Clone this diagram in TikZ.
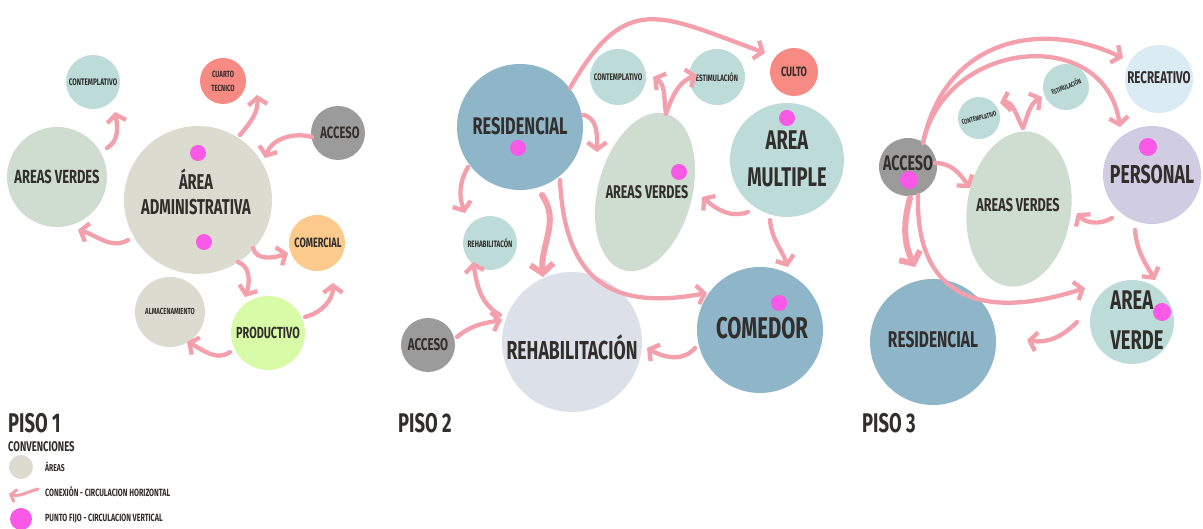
\documentclass[tikz,border=0pt]{standalone}
\usepackage{fontspec}
\setmainfont{Fira Sans}[FakeStretch=0.68]
\usetikzlibrary{shapes.geometric,arrows.meta,calc}
\definecolor{pk}{RGB}{244,160,172}
\definecolor{dotc}{RGB}{250,88,230}
\definecolor{tealc}{RGB}{189,220,217}
\definecolor{sage}{RGB}{207,221,208}
\definecolor{beige}{RGB}{220,219,208}
\definecolor{steel}{RGB}{143,181,201}
\definecolor{grey1}{RGB}{155,155,155}
\definecolor{salmon}{RGB}{248,138,132}
\definecolor{orng}{RGB}{253,202,141}
\definecolor{lime}{RGB}{216,251,167}
\definecolor{lav}{RGB}{208,205,226}
\definecolor{pale}{RGB}{220,225,233}
\definecolor{sky}{RGB}{219,235,243}
\definecolor{ink}{RGB}{50,46,44}
\newcommand\fz[2]{\fontsize{#1}{#2}\selectfont}
\begin{document}
\begin{tikzpicture}[x=1pt,y=1pt,
  area/.style={circle, inner sep=0pt},
  oval/.style={ellipse, inner sep=0pt, fill=sage},
  pt/.style={circle, fill=dotc, minimum size=16pt, inner sep=0pt},
  lbl/.style={text=ink, align=center, inner sep=0pt},
  conn/.style={draw=pk, line width=4.3pt, line cap=round, -{Straight Barb[length=7pt,width=19pt]}},
  big/.style={line width=6pt, -{Straight Barb[length=9pt,width=23pt]}}]
\useasboundingbox (0,0) rectangle (1203,529);
\fill[white] (0,0) rectangle (1203,529);

% ---------------- PISO 1
\node[area, fill=tealc, minimum size=54pt] (cont1) at (93,447) {};
\node[lbl, font=\bfseries\fz{9.5}{10}] (cont1t) at (93,447) {CONTEMPLATIVO};
\node[area, fill=salmon, minimum size=46pt] (ct1) at (223,448) {};
\node[lbl, font=\bfseries\fz{9}{14}] (ct1t) at (223,448) {CUARTO\\TECNICO};
\node[area, fill=grey1, minimum size=54pt] (acc1) at (338,396) {};
\node[lbl, font=\bfseries\fz{16.5}{17}] (acc1t) at (340,396) {ACCESO};
\node[area, fill=sage, minimum size=100pt] (av1) at (57,352) {};
\node[lbl, font=\bfseries\fz{19}{19}] (av1t) at (57,352) {AREAS VERDES};
\node[area, fill=beige, minimum size=148pt] (adm) at (198,329) {};
\node[lbl, font=\bfseries\fz{21.5}{25}] (admt) at (196,337) {ÁREA\\ADMINISTRATIVA};
\node[pt] (d1a) at (198,376) {};
\node[pt] (d1b) at (204,287) {};
\node[area, fill=orng, minimum size=56pt] (com1) at (317,286) {};
\node[lbl, font=\bfseries\fz{13.5}{14}] (com1t) at (318,286) {COMERCIAL};
\node[area, fill=beige, minimum size=70pt] (alm1) at (170,217) {};
\node[lbl, font=\bfseries\fz{8.8}{10}] (alm1t) at (170,218) {ALMACENAMIENTO};
\node[area, fill=lime, minimum size=74pt] (prod1) at (268,196) {};
\node[lbl, font=\bfseries\fz{16}{17}] (prod1t) at (268,196) {PRODUCTIVO};

\draw[conn] ($(av1)+(50,29)$) to[out=30,in=-80] ($(cont1)+(22,-30)$);
\draw[conn] ($(adm)+(42,65)$) to[out=50,in=-85] ($(ct1)+(34,-14)$);
\draw[conn] ($(acc1)+(-26,-4)$) to[out=165,in=70] ($(adm)+(67,42)$);
\draw[conn] ($(adm)+(-70,-40)$) to[out=210,in=-15] ($(av1)+(21,-53)$);
\draw[conn] ($(adm)+(55,-48)$) to[out=-75,in=200] ($(com1)+(-29,-10)$);
\draw[conn] ($(adm)+(40,-62)$) to[out=-20,in=70] ($(prod1)+(-23,36)$);
\draw[conn] ($(prod1)+(37,16)$) to[out=15,in=-90] ($(com1)+(16,-40)$);
\draw[conn] ($(prod1)+(-38,-19)$) to[out=215,in=-25] ($(alm1)+(17,-30)$);

% ---------------- PISO 2
\node[area, fill=steel, minimum size=126pt] (res2) at (520,402) {};
\node[lbl, font=\bfseries\fz{24}{24}] (res2t) at (520,403) {RESIDENCIAL};
\node[pt] (d2a) at (518,381) {};
\node[area, fill=tealc, minimum size=56pt] (cont2) at (618,452) {};
\node[lbl, font=\bfseries\fz{9.5}{10}] (cont2t) at (618,452) {CONTEMPLATIVO};
\node[area, fill=tealc, minimum size=56pt] (est2) at (717,452) {};
\node[lbl, font=\bfseries\fz{9.3}{10}] (est2t) at (717,452) {ESTIMULACIÓN};
\node[area, fill=salmon, minimum size=48pt] (culto) at (794,457) {};
\node[lbl, font=\bfseries\fz{13.5}{14}] (cultot) at (794,457) {CULTO};
\node[area, fill=tealc, minimum size=114pt] (am2) at (787,369) {};
\node[lbl, font=\bfseries\fz{27}{37}] (am2t) at (787,370) {AREA\\MULTIPLE};
\node[pt] (d2b) at (787,411) {};
\node[oval, minimum width=94pt, minimum height=162pt, rotate=-15] (av2) at (645,337) {};
\node[lbl, font=\bfseries\fz{18.4}{19}] (av2t) at (647,337) {AREAS VERDES};
\node[pt] (d2c) at (679,357) {};
\node[area, fill=tealc, minimum size=54pt] (rehs) at (490,286) {};
\node[lbl, font=\bfseries\fz{9.3}{10}] (rehst) at (490,286) {REHABILITACÓN};
\node[area, fill=pale, minimum size=140pt] (rehb) at (572,187) {};
\node[lbl, font=\bfseries\fz{26}{26}] (rehbt) at (572,182) {REHABILITACIÓN};
\node[area, fill=grey1, minimum size=54pt] (acc2) at (428,184) {};
\node[lbl, font=\bfseries\fz{17}{17}] (acc2t) at (428,184) {ACCESO};
\node[area, fill=steel, minimum size=126pt] (com2) at (760,199) {};
\node[lbl, font=\bfseries\fz{30}{30}] (com2t) at (762,201) {COMEDOR};
\node[pt] (d2d) at (779,226) {};

\draw[conn] ($(res2)+(50,39)$) to[out=60,in=160,looseness=1.45] ($(culto)+(-29,19)$);
\draw[conn] (av2.north) to[out=100,in=-30] ($(cont2)+(35,0)$);
\draw[conn] (av2.north) to[out=70,in=200] ($(est2)+(-20,2)$);
\draw[conn] ($(res2)+(63,12)$) to[out=-10,in=90] ($(av2)+(-48,40)$);
\draw[conn] ($(res2)+(-52,-40)$) to[out=240,in=110] ($(rehs)+(-25,30)$);
\draw[conn,big] ($(res2)+(22,-68)$) to[out=-55,in=95] ($(rehb)+(-29,65)$);
\draw[conn] ($(res2)+(40,-53)$) .. controls (565,240) and (620,220) .. ($(com2)+(-53,37)$);
\draw[conn] ($(am2)+(-39,-52)$) to[out=200,in=-40] ($(av2)+(57,-5)$);
\draw[conn] ($(am2)+(-17,-60)$) to[out=-85,in=110] ($(com2)+(28,63)$);
\draw[conn] ($(com2)+(-65,-18)$) to[out=230,in=-30] ($(rehb)+(75,-6)$);
\draw[conn] ($(rehb)+(-72,27)$) to[out=150,in=-80] ($(rehs)+(-17,-19)$);
\draw[conn] ($(acc2)+(29,8)$) to[out=40,in=190] ($(rehb)+(-70,22)$);

% ---------------- PISO 3
\node[area, fill=sky, minimum size=68pt] (rec3) at (1159,450) {};
\node[lbl, font=\bfseries\fz{17}{17}] (rec3t) at (1159,451) {RECREATIVO};
\node[area, fill=tealc, minimum size=46pt] (est3) at (1066,442) {};
\node[lbl, font=\bfseries\fz{7}{7}, rotate=22] (est3t) at (1066,443) {ESTIMULACIÓN};
\node[area, fill=tealc, minimum size=42pt] (cont3) at (979,411) {};
\node[lbl, font=\bfseries\fz{7}{7}, rotate=14] (cont3t) at (979,411) {CONTEMPLATIVO};
\node[area, fill=grey1, minimum size=58pt] (acc3) at (908,362) {};
\node[lbl, font=\bfseries\fz{21}{21}] (acc3t) at (908,366) {ACCESO};
\node[pt, minimum size=18pt] (d3a) at (909,349) {};
\node[area, fill=lav, minimum size=98pt] (pers3) at (1152,354) {};
\node[lbl, font=\bfseries\fz{26}{26}] (pers3t) at (1152,354) {PERSONAL};
\node[pt, minimum size=18pt] (d3b) at (1148,382) {};
\node[oval, minimum width=104pt, minimum height=156pt, rotate=-8] (av3) at (1019,320) {};
\node[lbl, font=\bfseries\fz{18.6}{19}] (av3t) at (1018,324) {AREAS VERDES};
\node[area, fill=tealc, minimum size=84pt] (av3b) at (1132,207) {};
\node[lbl, align=left, font=\bfseries\fz{27}{40}] (av3bt) at (1137,209) {AREA\\VERDE};
\node[pt, minimum size=18pt] (d3c) at (1162,217) {};
\node[area, fill=steel, minimum size=126pt] (res3) at (933,187) {};
\node[lbl, font=\bfseries\fz{22.8}{23}] (res3t) at (933,189) {RESIDENCIAL};

\draw[conn] ($(acc3)+(15,24)$) .. controls (945,490) and (1040,510) .. ($(rec3)+(-36,21)$);
\draw[conn] ($(acc3)+(15,24)$) .. controls (945,490) and (1105,505) .. ($(pers3)+(-32,48)$);
\draw[conn] ($(acc3)+(10,-28)$) .. controls (915,225) and (990,210) .. ($(av3b)+(-47,34)$);
\draw[conn] ($(acc3)+(27,4)$) to[out=0,in=125] ($(av3)+(-49,21)$);
\draw[conn,big] ($(acc3)+(2,-31)$) to[out=-105,in=115] ($(res3)+(-18,75)$);
\draw[conn] ($(av3)+(4,81)$) to[out=120,in=10] ($(cont3)+(21,15)$);
\draw[conn] ($(av3)+(4,81)$) to[out=70,in=210] ($(est3)+(-24,-10)$);
\draw[conn] ($(pers3)+(-40,-43)$) to[out=210,in=-50] ($(av3)+(58,-4)$);
\draw[conn] ($(pers3)+(-17,-55)$) to[out=-85,in=120] ($(av3b)+(23,42)$);
\draw[conn] ($(av3b)+(-55,0)$) to[out=225,in=-10] ($(res3)+(94,2)$);

% ---------------- titles and legend
\node[lbl, anchor=west, font=\bfseries\fz{27}{27}] (p1) at (8,106) {PISO 1};
\node[lbl, anchor=west, font=\bfseries\fz{27}{27}] (p2) at (398,106) {PISO 2};
\node[lbl, anchor=west, font=\bfseries\fz{27}{27}] (p3) at (862,106) {PISO 3};
\node[lbl, anchor=west, font=\bfseries\fz{14}{14}] (conv) at (8,82) {CONVENCIONES};
\node[area, fill=beige, minimum size=24pt] (lg1) at (21,62) {};
\node[lbl, anchor=west, font=\bfseries\fz{10}{10}] (lg1t) at (45,62) {ÁREAS};
\coordinate (lgA) at (38,40);
\coordinate (lgB) at (9,35);
\draw[conn, line width=3pt, -{Straight Barb[length=5pt,width=13pt]}] (lgA) to[out=195,in=-15] (lgB);
\node[lbl, anchor=west, font=\bfseries\fz{10.5}{10}] (lg2t) at (45,37) {CONEXIÓN - CIRCULACION HORIZONTAL};
\node[pt, minimum size=22pt] (lg3) at (21,10) {};
\node[lbl, anchor=west, font=\bfseries\fz{10.5}{10}] (lg3t) at (45,10) {PUNTO FIJO - CIRCULACION VERTICAL};
\end{tikzpicture}
\end{document}
